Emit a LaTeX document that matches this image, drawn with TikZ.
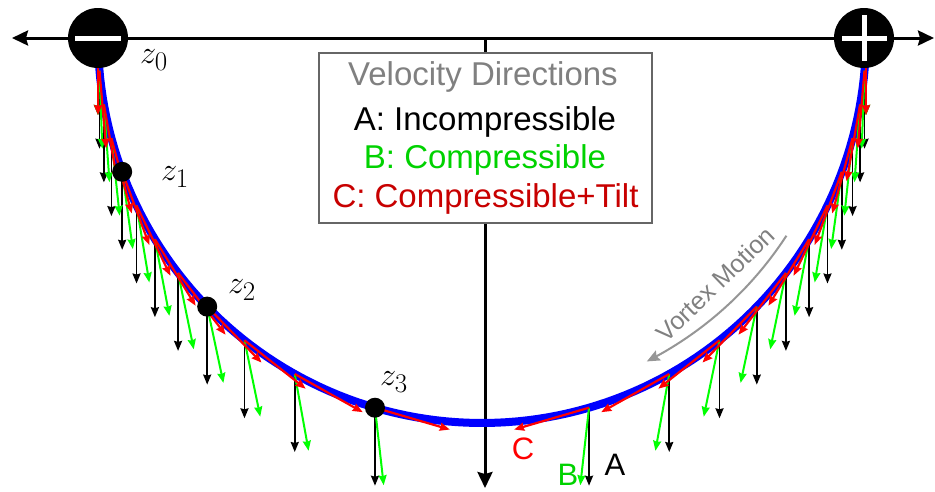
\documentclass[tikz,border=0pt]{standalone}
\usepackage{graphicx}
\usepackage{fontspec}
\newfontfamily\arial{Liberation Sans}
\usetikzlibrary{arrows.meta}
\definecolor{vblue}{RGB}{0,0,255}
\definecolor{vred}{RGB}{255,0,0}
\definecolor{vgreen}{RGB}{0,255,0}
\definecolor{lgreen}{RGB}{0,210,0}
\definecolor{ldred}{RGB}{200,0,0}
\definecolor{lgray}{RGB}{128,128,128}
\definecolor{mgray}{RGB}{150,150,150}
\newcommand{\zlabtext}[1]{\scalebox{1.3}{\Huge$z_{#1}$}}
\tikzset{
  axisline/.style={line width=3pt, -{Stealth[length=16pt,width=15pt,inset=2pt]}},
  velA/.style={black, line width=1.8pt, -{Stealth[length=10pt,width=8pt,inset=1pt]}},
  velB/.style={vgreen, line width=2pt, -{Stealth[length=10pt,width=8pt,inset=1pt]}},
  velC/.style={vred, line width=2.2pt, -{Stealth[length=10pt,width=8pt,inset=1pt]}},
  vortexline/.style={vblue, line width=8pt},
  zdot/.style={circle, fill=black, minimum size=20pt, inner sep=0pt},
  vortex/.style={circle, fill=black, minimum size=60pt, inner sep=0pt},
  zlab/.style={inner sep=0pt},
  legtext/.style={anchor=base, inner sep=0pt, font=\arial\fontsize{33}{40}\selectfont},
  abclab/.style={inner sep=0pt, font=\arial\fontsize{31}{36}\selectfont},
}
\begin{document}
\begin{tikzpicture}[x=1pt,y=-1pt]
\useasboundingbox (0,0) rectangle (935,491);

% axes
\coordinate (axL) at (12,38);
\coordinate (axR) at (934,38);
\coordinate (axTop) at (485,38);
\coordinate (axBot) at (485,488);
\draw[axisline] (axTop) -- (axL);
\draw[axisline] (axTop) -- (axR);
\draw[axisline] (axTop) -- (axBot);

% legend box
\node[draw=lgray!80!black, line width=1.2pt, fill=white, minimum width=333pt, minimum height=170pt, inner sep=0pt] (legend) at (485.5,138) {};
\node[legtext, text=lgray] (legT) at (483,85) {Velocity Directions};
\node[legtext, text=black] (legA) at (485,130) {A: Incompressible};
\node[legtext, text=lgreen] (legB) at (485,168) {B: Compressible};
\node[legtext, text=ldred] (legC) at (485.5,207) {C: Compressible+Tilt};

% vortex line
\draw[vortexline] plot[domain=0:180, samples=120] ({482-384*cos(\x)},{37+386*sin(\x)});

% vortex motion arrow
\draw[mgray, line width=2pt, -{Stealth[length=13pt,width=11pt,inset=2pt]}]
  plot[domain=33:63, samples=40] ({482+363*cos(\x)},{38+363*sin(\x)});
\node[inner sep=0pt, rotate=44, text=lgray, font=\arial\fontsize{25}{28}\selectfont] (vm) at (715,284) {Vortex Motion};

% sample points and velocity endpoints
\foreach \j in {0,...,11}{
  \pgfmathsetmacro\yy{37+33.7*\j}
  \pgfmathsetmacro\t{asin((\yy-37)/386)}
  \pgfmathsetmacro\c{cos(\t)}
  \pgfmathsetmacro\s{sin(\t)}
  \pgfmathsetmacro\xl{482-384*\c}
  \pgfmathsetmacro\xr{482+384*\c}
  \pgfmathsetmacro\ang{atan2(386*\c,384*\s)}
  \pgfmathsetmacro\tx{78*cos(\ang)}
  \pgfmathsetmacro\ty{78*sin(\ang)}
  \pgfmathsetmacro\g{12*sin(2*\t)}
  \pgfmathsetmacro\gx{78*sin(\g)}
  \pgfmathsetmacro\gy{78*cos(\g)}
  \coordinate (L\j) at (\xl,\yy);
  \coordinate (R\j) at (\xr,\yy);
  \coordinate (LA\j) at (\xl,\yy+78);
  \coordinate (RA\j) at (\xr,\yy+78);
  \coordinate (LB\j) at (\xl+\gx,\yy+\gy);
  \coordinate (RB\j) at (\xr-\gx,\yy+\gy);
  \coordinate (LC\j) at (\xl+\tx,\yy+\ty);
  \coordinate (RC\j) at (\xr-\tx,\yy+\ty);
}
\foreach \j in {0,...,11}{
  \draw[velA] (L\j) -- (LA\j);
  \draw[velA] (R\j) -- (RA\j);
}
\foreach \j in {0,...,11}{
  \draw[velB] (L\j) -- (LB\j);
  \draw[velB] (R\j) -- (RB\j);
}
\foreach \j in {0,...,11}{
  \draw[velC] (L\j) -- (LC\j);
  \draw[velC] (R\j) -- (RC\j);
}

% marked points
\node[zdot] (z1) at (L4) {};
\node[zdot] (z2) at (L8) {};
\node[zdot] (z3) at (L11) {};

% vortices
\node[vortex] (vm1) at (98,38) {};
\node[vortex] (vp1) at (864,38) {};
\fill[white] (75,35.5) rectangle (121,40.5);
\fill[white] (841.5,35.5) rectangle (886.5,40.5);
\fill[white] (861.5,15) rectangle (866.5,61);

% labels
\node[zlab] (lz0) at (154,60) {\zlabtext{0}};
\node[zlab] (lz1) at (175,177) {\zlabtext{1}};
\node[zlab] (lz2) at (242,290) {\zlabtext{2}};
\node[zlab] (lz3) at (394,382) {\zlabtext{3}};

\node[abclab, text=vred] (labC) at (523,449) {C};
\node[abclab, text=lgreen] (labB) at (568,475) {B};
\node[abclab, text=black] (labA) at (615,465) {A};
\end{tikzpicture}
\end{document}
